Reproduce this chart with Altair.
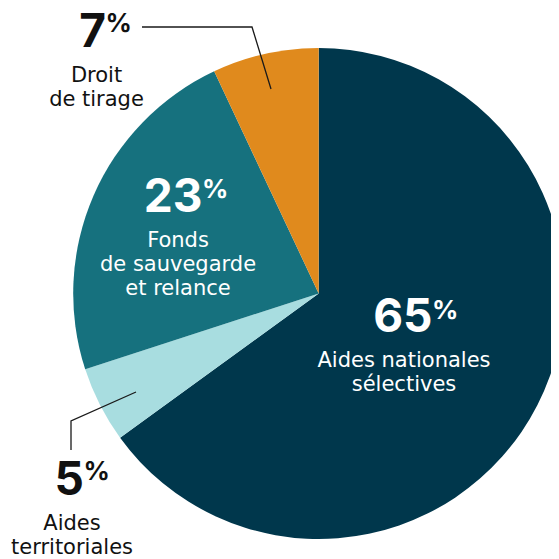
import altair as alt
import pandas as pd

# ---- data ----
categories = ["Aides nationales sélectives", "Aides territoriales",
              "Fonds de sauvegarde et relance", "Droit de tirage"]
label_lines = ["Aides nationales\nsélectives", "Aides\nterritoriales",
               "Fonds\nde sauvegarde\net relance", "Droit\nde tirage"]
shares = [65, 5, 23, 7]

# ---- style / layout ----
colors = ["#00374C", "#A8DDE0", "#16717E", "#E08A1D"]
text_colors = ["#FFFFFF", "#111111", "#FFFFFF", "#111111"]
CX, CY, R = 310.7, 285.5, 245.5
num_x = [424.5, 76, 194.5, 98]      # junction between number and %
num_y = [324, 487, 204, 39]         # number baseline
pct_y = [290, 451, 169, 3]          # % top
desc_x = [396, 64, 170, 88.5]
desc_y = [359, 522, 239, 74]
NUM_FONT = "Inter"
TXT_FONT = "DejaVu Sans"

slices = pd.DataFrame({
    "category": categories,
    "share": shares,
    "order": list(range(len(categories))),
})

labels = pd.DataFrame({
    "num": [str(s) for s in shares],
    "pct": ["%"] * len(shares),
    "desc": label_lines,
    "tc": text_colors,
    "nx": num_x, "ny": num_y,
    "px": [x - 0.5 for x in num_x], "py": pct_y,
    "dx": desc_x, "dy": desc_y,
})

leaders = pd.DataFrame({
    "lid": [0, 0, 0, 1, 1, 1],
    "i": [0, 1, 2, 0, 1, 2],
    "lx": [134, 244, 263, 63, 63, 128],
    "ly": [19, 19, 81, 442, 413, 384],
})

pie = alt.Chart(slices).mark_arc(outerRadius=R).encode(
    theta=alt.Theta("share:Q", stack=True),
    order=alt.Order("order:Q"),
    color=alt.Color("category:N",
                    scale=alt.Scale(domain=categories, range=colors),
                    legend=None),
    x=alt.value(CX),
    y=alt.value(CY),
)

base = alt.Chart(labels)

nums = base.mark_text(align="right", baseline="alphabetic", font=NUM_FONT,
                      fontSize=46, fontWeight="bold").encode(
    x=alt.X("nx:Q", scale=None, axis=None),
    y=alt.Y("ny:Q", scale=None, axis=None),
    text="num:N",
    color=alt.Color("tc:N", scale=None),
)

pcts = base.mark_text(align="left", baseline="top", font=NUM_FONT,
                      fontSize=26, fontWeight="bold").encode(
    x=alt.X("px:Q", scale=None, axis=None),
    y=alt.Y("py:Q", scale=None, axis=None),
    text="pct:N",
    color=alt.Color("tc:N", scale=None),
)

descs = base.mark_text(align="center", baseline="alphabetic", font=TXT_FONT,
                       fontSize=21, lineBreak="\n", lineHeight=24).encode(
    x=alt.X("dx:Q", scale=None, axis=None),
    y=alt.Y("dy:Q", scale=None, axis=None),
    text="desc:N",
    color=alt.Color("tc:N", scale=None),
)

lines = alt.Chart(leaders).mark_line(color="#1A1A1A", strokeWidth=1.3).encode(
    x=alt.X("lx:Q", scale=None, axis=None),
    y=alt.Y("ly:Q", scale=None, axis=None),
    detail="lid:N",
    order="i:Q",
)

chart = alt.layer(pie, lines, nums, pcts, descs).properties(
    width=543, height=551,
    autosize=alt.AutoSizeParams(type="none"),
    padding=0,
    background="#FFFFFF",
).configure_view(stroke=None)

chart.save("out.html", embed_options={"renderer": "svg", "actions": False})
